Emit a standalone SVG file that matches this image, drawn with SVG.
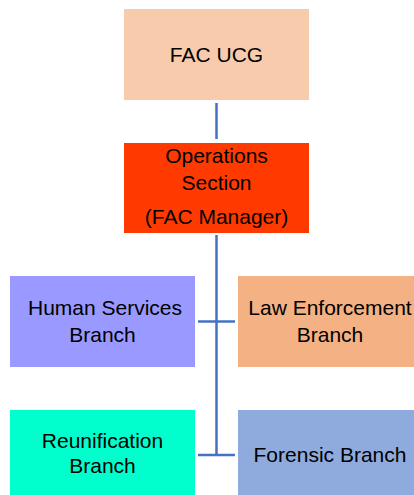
<svg xmlns="http://www.w3.org/2000/svg" width="414" height="495" viewBox="0 0 414 495">
<style>
.t{font-family:"Liberation Sans",Arial,sans-serif;font-size:21px;fill:#000;text-anchor:middle}
.c{stroke:#4472C4;stroke-width:2.5;fill:none}
</style>
<rect width="414" height="495" fill="#fff"/>
<g id="connectors">
<path class="c" d="M216.5 103V139"/>
<path class="c" d="M216.5 235V456"/>
<path class="c" d="M198 321.5H235"/>
<path class="c" d="M198 455H235"/>
</g>
<g id="fac-ucg">
<rect x="124" y="9" width="185" height="91" fill="#F8CBAD"/>
<text class="t" x="216.5" y="62">FAC UCG</text>
</g>
<g id="operations">
<rect x="124" y="143" width="185" height="90" fill="#FF3A00"/>
<text class="t" x="216.5" y="163">Operations</text>
<text class="t" x="216.5" y="190">Section</text>
<text class="t" x="216.5" y="224">(FAC Manager)</text>
</g>
<g id="human-services">
<rect x="10" y="276" width="185" height="91" fill="#9999FF"/>
<text class="t" x="105" y="315">Human Services</text>
<text class="t" x="102.5" y="342">Branch</text>
</g>
<g id="law-enforcement">
<rect x="238" y="276" width="184" height="91" fill="#F4B183"/>
<text class="t" x="330" y="315">Law Enforcement</text>
<text class="t" x="330" y="342">Branch</text>
</g>
<g id="reunification">
<rect x="10" y="410" width="185" height="85" fill="#00FFCC"/>
<text class="t" x="102.5" y="448">Reunification</text>
<text class="t" x="102.5" y="473">Branch</text>
</g>
<g id="forensic">
<rect x="238" y="410" width="184" height="85" fill="#8FAADC"/>
<text class="t" x="330" y="462">Forensic Branch</text>
</g>
</svg>
